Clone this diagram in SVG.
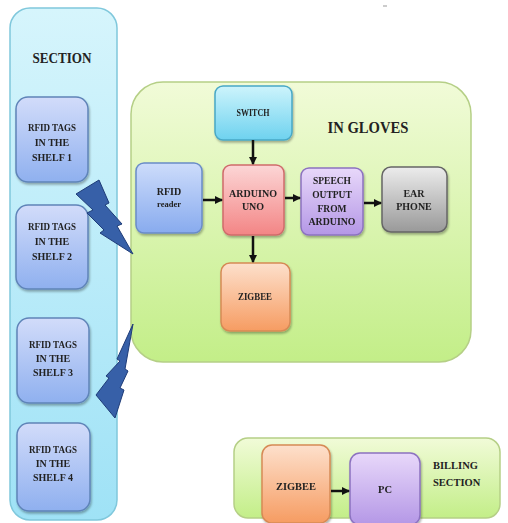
<svg xmlns="http://www.w3.org/2000/svg" width="508" height="523" viewBox="0 0 508 523">
<defs>
<linearGradient id="gSec" x1="0" y1="0" x2="0" y2="1"><stop offset="0" stop-color="#d6f5fc"/><stop offset="1" stop-color="#9fe2f6"/></linearGradient>
<linearGradient id="gShelf" x1="0" y1="0" x2="0" y2="1"><stop offset="0" stop-color="#d2dcfa"/><stop offset="1" stop-color="#8fb0ef"/></linearGradient>
<linearGradient id="gGreen" x1="0" y1="0" x2="0" y2="1"><stop offset="0" stop-color="#f1fbd8"/><stop offset="1" stop-color="#c3ee88"/></linearGradient>
<linearGradient id="gSwitch" x1="0" y1="0" x2="0" y2="1"><stop offset="0" stop-color="#cdf4fc"/><stop offset="1" stop-color="#6ed2ef"/></linearGradient>
<linearGradient id="gBlue" x1="0" y1="0" x2="0" y2="1"><stop offset="0" stop-color="#cddcfb"/><stop offset="1" stop-color="#88abee"/></linearGradient>
<linearGradient id="gRed" x1="0" y1="0" x2="0" y2="1"><stop offset="0" stop-color="#fcd6d6"/><stop offset="1" stop-color="#f38585"/></linearGradient>
<linearGradient id="gPurple" x1="0" y1="0" x2="0" y2="1"><stop offset="0" stop-color="#e8d8fa"/><stop offset="1" stop-color="#b497e6"/></linearGradient>
<linearGradient id="gGray" x1="0" y1="0" x2="0" y2="1"><stop offset="0" stop-color="#ececec"/><stop offset="1" stop-color="#999999"/></linearGradient>
<linearGradient id="gOrange" x1="0" y1="0" x2="0" y2="1"><stop offset="0" stop-color="#fde0cc"/><stop offset="1" stop-color="#f69c62"/></linearGradient>
<filter id="sh" x="-10%" y="-10%" width="130%" height="130%"><feDropShadow dx="1" dy="2" stdDeviation="1.2" flood-color="#000" flood-opacity="0.3"/></filter>
<marker id="arr" markerWidth="8" markerHeight="8" refX="7" refY="4" orient="auto" markerUnits="userSpaceOnUse"><path d="M0,0 L8,4 L0,8 z" fill="#111"/></marker>
<style>
.t{font-family:"Liberation Serif","Times New Roman",serif;font-weight:bold;fill:#222;text-anchor:middle}
.s{font-size:10px}
.box{filter:url(#sh)}
.c{stroke:#111;stroke-width:2.5;fill:none;marker-end:url(#arr)}
.bolt{fill:#3760a8;stroke:#1f3c78;stroke-width:1}
</style>
</defs>
<rect x="0" y="0" width="508" height="523" fill="#ffffff"/>
<line x1="383" y1="6" x2="387" y2="6" stroke="#999" stroke-width="1"/>

<g id="section">
<rect x="10" y="8" width="107" height="512" rx="20" fill="url(#gSec)" stroke="#80c8dc" stroke-width="1.5"/>
<text class="t" x="62" y="63" font-size="14.5" textLength="59" lengthAdjust="spacingAndGlyphs">SECTION</text>
</g>
<g id="shelf1" class="box">
<rect x="16" y="97" width="72" height="85" rx="12" fill="url(#gShelf)" stroke="#5f84b8" stroke-width="1.5"/>
<text class="t s" x="52" y="131" textLength="48" lengthAdjust="spacingAndGlyphs">RFID TAGS</text>
<text class="t s" x="52" y="146">IN THE</text>
<text class="t s" x="52" y="161">SHELF 1</text>
</g>
<g id="shelf2" class="box">
<rect x="16" y="205" width="72" height="84" rx="12" fill="url(#gShelf)" stroke="#5f84b8" stroke-width="1.5"/>
<text class="t s" x="52" y="230" textLength="48" lengthAdjust="spacingAndGlyphs">RFID TAGS</text>
<text class="t s" x="52" y="245">IN THE</text>
<text class="t s" x="52" y="260">SHELF 2</text>
</g>
<g id="shelf3" class="box">
<rect x="17" y="318" width="72" height="85" rx="12" fill="url(#gShelf)" stroke="#5f84b8" stroke-width="1.5"/>
<text class="t s" x="53" y="348" textLength="48" lengthAdjust="spacingAndGlyphs">RFID TAGS</text>
<text class="t s" x="53" y="362">IN THE</text>
<text class="t s" x="53" y="376">SHELF 3</text>
</g>
<g id="shelf4" class="box">
<rect x="17" y="423" width="73" height="88" rx="12" fill="url(#gShelf)" stroke="#5f84b8" stroke-width="1.5"/>
<text class="t s" x="53" y="453" textLength="48" lengthAdjust="spacingAndGlyphs">RFID TAGS</text>
<text class="t s" x="53" y="467">IN THE</text>
<text class="t s" x="53" y="481">SHELF 4</text>
</g>

<g id="gloves">
<rect x="131" y="82" width="340" height="280" rx="32" fill="url(#gGreen)" stroke="#b5cf86" stroke-width="1.5"/>
<text class="t" x="368" y="133" font-size="17" textLength="81" lengthAdjust="spacingAndGlyphs">IN GLOVES</text>
</g>

<g id="bolts">
<polygon class="bolt" points="76,194 99,180 109,203 105,205 122,224 117,226 133,254 100,233 104,230 87,213 93,210"/>
<polygon class="bolt" points="133,324 117,359 120,361 106,376 109,378 96,395 115,418 124,390 120,388 128,371 125,369"/>
</g>

<g id="switch" class="box">
<rect x="215" y="86" width="77" height="54" rx="8" fill="url(#gSwitch)" stroke="#48a8c6" stroke-width="1.5"/>
<text class="t s" x="253" y="116" textLength="33" lengthAdjust="spacingAndGlyphs">SWITCH</text>
</g>
<g id="rfidreader" class="box">
<rect x="136" y="163" width="66" height="70" rx="8" fill="url(#gBlue)" stroke="#6a8cc8" stroke-width="1.5"/>
<text class="t s" x="169" y="195">RFID</text>
<text class="t" x="169" y="207" font-size="8.5">reader</text>
</g>
<g id="arduino" class="box">
<rect x="223" y="165" width="61" height="70" rx="8" fill="url(#gRed)" stroke="#cf6b6b" stroke-width="1.5"/>
<text class="t s" x="253" y="197" textLength="48" lengthAdjust="spacingAndGlyphs">ARDUINO</text>
<text class="t s" x="253" y="210">UNO</text>
</g>
<g id="speech" class="box">
<rect x="301" y="168" width="62" height="67" rx="8" fill="url(#gPurple)" stroke="#8c72c0" stroke-width="1.5"/>
<text class="t" font-size="9.5" x="332" y="184">SPEECH</text>
<text class="t" font-size="9.5" x="332" y="198">OUTPUT</text>
<text class="t" font-size="9.5" x="332" y="212">FROM</text>
<text class="t" font-size="9.5" x="332" y="225" textLength="47" lengthAdjust="spacingAndGlyphs">ARDUINO</text>
</g>
<g id="earphone" class="box">
<rect x="382" y="167" width="65" height="65" rx="9" fill="url(#gGray)" stroke="#666" stroke-width="1.5"/>
<text class="t s" x="414" y="197">EAR</text>
<text class="t s" x="414" y="210">PHONE</text>
</g>
<g id="zigbee1" class="box">
<rect x="221" y="263" width="69" height="68" rx="9" fill="url(#gOrange)" stroke="#d68a55" stroke-width="1.5"/>
<text class="t s" x="255" y="300" textLength="34" lengthAdjust="spacingAndGlyphs">ZIGBEE</text>
</g>

<g id="billing">
<rect x="234" y="438" width="266" height="80" rx="14" fill="url(#gGreen)" stroke="#b5cf86" stroke-width="1.5"/>
<text class="t" x="433" y="469" font-size="10.5" style="text-anchor:start">BILLING</text>
<text class="t" x="433" y="486" font-size="10.5" style="text-anchor:start">SECTION</text>
</g>
<g id="zigbee2" class="box">
<rect x="262" y="445" width="68" height="78" rx="10" fill="url(#gOrange)" stroke="#d68a55" stroke-width="1.5"/>
<text class="t" x="296" y="490" font-size="10.5" textLength="40" lengthAdjust="spacingAndGlyphs">ZIGBEE</text>
</g>
<g id="pc" class="box">
<rect x="350" y="453" width="70" height="72" rx="10" fill="url(#gPurple)" stroke="#8c72c0" stroke-width="1.5"/>
<text class="t" x="385" y="493" font-size="10.5">PC</text>
</g>

<g id="connectors">
<line class="c" x1="253" y1="140" x2="253" y2="164"/>
<line class="c" x1="203" y1="200" x2="222" y2="200"/>
<line class="c" x1="285" y1="198" x2="300" y2="198"/>
<line class="c" x1="364" y1="203" x2="381" y2="203"/>
<line class="c" x1="253" y1="236" x2="253" y2="262"/>
<line class="c" x1="331" y1="491" x2="349" y2="491"/>
</g>
</svg>
